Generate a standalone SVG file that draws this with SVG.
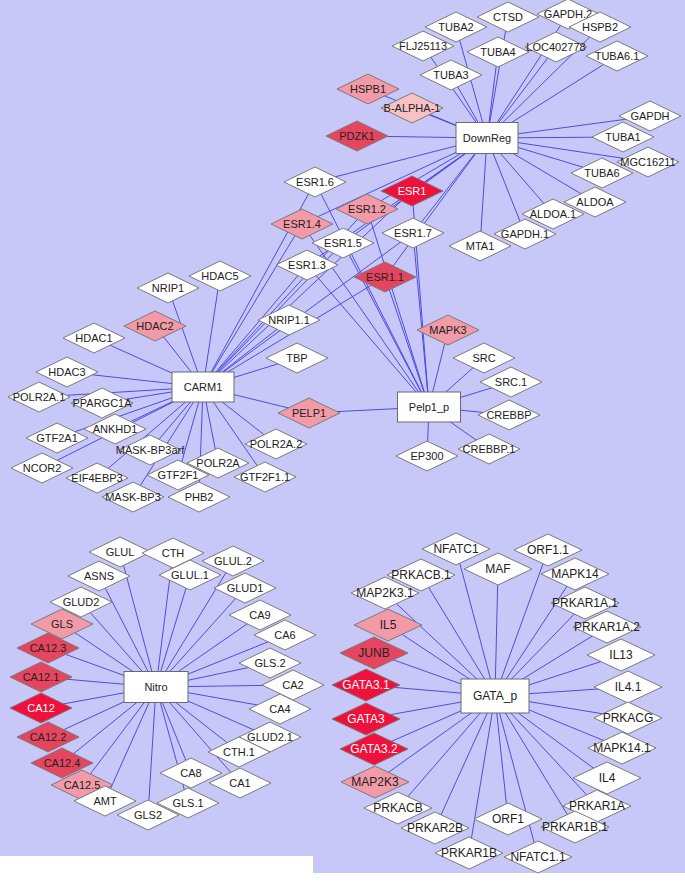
<svg xmlns="http://www.w3.org/2000/svg" width="685" height="887" viewBox="0 0 685 887">
<style>
.bg{fill:#c8c8f8}
.e line{stroke:#4c4ce6;stroke-width:1}
.d{stroke:#7a7a7a;stroke-width:1;fill:#fff}
.b{stroke:#6a6a6a;stroke-width:1;fill:#fff}
.r1{fill:#f0103c}
.r2{fill:#e6455f}
.r3{fill:#f29aa8}
.r4{fill:#f8c2c4}
text{font-family:"Liberation Sans",Arial,sans-serif;font-size:11px;fill:#222;text-anchor:middle}
.g text{font-size:12px}
text.wt{fill:#fff}
</style>
<rect class="bg" x="0" y="0" width="685" height="856"/>
<rect class="bg" x="313" y="855" width="372" height="18"/>
<g class="e" id="edges">
<!-- DownReg -->
<line x1="487" y1="138" x2="456" y2="27"/><line x1="487" y1="138" x2="508" y2="17"/><line x1="487" y1="138" x2="568" y2="14"/><line x1="487" y1="138" x2="600" y2="27"/><line x1="487" y1="138" x2="423" y2="46"/><line x1="487" y1="138" x2="498" y2="52"/><line x1="487" y1="138" x2="556" y2="47"/><line x1="487" y1="138" x2="617" y2="56"/><line x1="487" y1="138" x2="451" y2="75"/><line x1="487" y1="138" x2="368" y2="89"/><line x1="487" y1="138" x2="412" y2="108"/><line x1="487" y1="138" x2="650" y2="116"/><line x1="487" y1="138" x2="357" y2="136"/><line x1="487" y1="138" x2="623" y2="137"/><line x1="487" y1="138" x2="648" y2="162"/><line x1="487" y1="138" x2="602" y2="173"/><line x1="487" y1="138" x2="595" y2="202"/><line x1="487" y1="138" x2="553" y2="214"/><line x1="487" y1="138" x2="525" y2="234"/><line x1="487" y1="138" x2="480" y2="246"/>
<line x1="487" y1="138" x2="315" y2="182"/><line x1="487" y1="138" x2="412" y2="191"/><line x1="487" y1="138" x2="367" y2="209"/><line x1="487" y1="138" x2="302" y2="224"/><line x1="487" y1="138" x2="413" y2="233"/><line x1="487" y1="138" x2="343" y2="243"/><line x1="487" y1="138" x2="307" y2="265"/><line x1="487" y1="138" x2="385" y2="277"/>
<!-- CARM1 -->
<line x1="203" y1="387" x2="315" y2="182"/><line x1="203" y1="387" x2="412" y2="191"/><line x1="203" y1="387" x2="367" y2="209"/><line x1="203" y1="387" x2="302" y2="224"/><line x1="203" y1="387" x2="413" y2="233"/><line x1="203" y1="387" x2="343" y2="243"/><line x1="203" y1="387" x2="307" y2="265"/><line x1="203" y1="387" x2="385" y2="277"/>
<line x1="203" y1="387" x2="220" y2="276"/><line x1="203" y1="387" x2="168" y2="288"/><line x1="203" y1="387" x2="155" y2="326"/><line x1="203" y1="387" x2="94" y2="338"/><line x1="203" y1="387" x2="67" y2="372"/><line x1="203" y1="387" x2="39" y2="397"/><line x1="203" y1="387" x2="102" y2="403"/><line x1="203" y1="387" x2="115" y2="429"/><line x1="203" y1="387" x2="57" y2="438"/><line x1="203" y1="387" x2="150" y2="450"/><line x1="203" y1="387" x2="42" y2="468"/><line x1="203" y1="387" x2="97" y2="478"/><line x1="203" y1="387" x2="178" y2="475"/><line x1="203" y1="387" x2="218" y2="463"/><line x1="203" y1="387" x2="133" y2="497"/><line x1="203" y1="387" x2="199" y2="497"/><line x1="203" y1="387" x2="276" y2="444"/><line x1="203" y1="387" x2="265" y2="477"/><line x1="203" y1="387" x2="297" y2="358"/><line x1="203" y1="387" x2="289" y2="320"/><line x1="203" y1="387" x2="309" y2="413"/>
<!-- Pelp1_p -->
<line x1="429" y1="407" x2="315" y2="182"/><line x1="429" y1="407" x2="412" y2="191"/><line x1="429" y1="407" x2="367" y2="209"/><line x1="429" y1="407" x2="302" y2="224"/><line x1="429" y1="407" x2="413" y2="233"/><line x1="429" y1="407" x2="343" y2="243"/><line x1="429" y1="407" x2="307" y2="265"/><line x1="429" y1="407" x2="385" y2="277"/>
<line x1="429" y1="407" x2="309" y2="413"/><line x1="429" y1="407" x2="448" y2="330"/><line x1="429" y1="407" x2="484" y2="358"/><line x1="429" y1="407" x2="511" y2="382"/><line x1="429" y1="407" x2="509" y2="415"/><line x1="429" y1="407" x2="489" y2="449"/><line x1="429" y1="407" x2="427" y2="456"/>
<!-- Nitro -->
<line x1="156" y1="687" x2="120" y2="552"/><line x1="156" y1="687" x2="173" y2="553"/><line x1="156" y1="687" x2="233" y2="561"/><line x1="156" y1="687" x2="99" y2="576"/><line x1="156" y1="687" x2="190" y2="575"/><line x1="156" y1="687" x2="245" y2="588"/><line x1="156" y1="687" x2="81" y2="602"/><line x1="156" y1="687" x2="260" y2="615"/><line x1="156" y1="687" x2="62" y2="624"/><line x1="156" y1="687" x2="285" y2="635"/><line x1="156" y1="687" x2="48" y2="648"/><line x1="156" y1="687" x2="270" y2="663"/><line x1="156" y1="687" x2="41" y2="677"/><line x1="156" y1="687" x2="293" y2="685"/><line x1="156" y1="687" x2="41" y2="708"/><line x1="156" y1="687" x2="280" y2="709"/><line x1="156" y1="687" x2="48" y2="737"/><line x1="156" y1="687" x2="270" y2="737"/><line x1="156" y1="687" x2="239" y2="752"/><line x1="156" y1="687" x2="62" y2="763"/><line x1="156" y1="687" x2="191" y2="773"/><line x1="156" y1="687" x2="240" y2="783"/><line x1="156" y1="687" x2="82" y2="785"/><line x1="156" y1="687" x2="105" y2="801"/><line x1="156" y1="687" x2="188" y2="803"/><line x1="156" y1="687" x2="148" y2="815"/>
<!-- GATA_p -->
<line x1="495" y1="696" x2="456" y2="549"/><line x1="495" y1="696" x2="548" y2="550"/><line x1="495" y1="696" x2="498" y2="569"/><line x1="495" y1="696" x2="421" y2="575"/><line x1="495" y1="696" x2="575" y2="574"/><line x1="495" y1="696" x2="385" y2="593"/><line x1="495" y1="696" x2="585" y2="603"/><line x1="495" y1="696" x2="388" y2="625"/><line x1="495" y1="696" x2="607" y2="627"/><line x1="495" y1="696" x2="374" y2="653"/><line x1="495" y1="696" x2="621" y2="655"/><line x1="495" y1="696" x2="366" y2="685"/><line x1="495" y1="696" x2="628" y2="687"/><line x1="495" y1="696" x2="366" y2="719"/><line x1="495" y1="696" x2="628" y2="718"/><line x1="495" y1="696" x2="374" y2="749"/><line x1="495" y1="696" x2="622" y2="748"/><line x1="495" y1="696" x2="375" y2="782"/><line x1="495" y1="696" x2="607" y2="778"/><line x1="495" y1="696" x2="398" y2="808"/><line x1="495" y1="696" x2="597" y2="806"/><line x1="495" y1="696" x2="508" y2="819"/><line x1="495" y1="696" x2="435" y2="828"/><line x1="495" y1="696" x2="575" y2="827"/><line x1="495" y1="696" x2="469" y2="853"/><line x1="495" y1="696" x2="538" y2="857"/>
</g>
<!-- DownReg cluster -->
<g id="n_DownReg" transform="translate(487,138)"><rect class="b" x="-31" y="-15.5" width="62" height="31"/><text dy="4">DownReg</text></g>
<g id="n_TUBA2" transform="translate(456,27)"><path class="d" d="M-31,0L0,-15L31,0L0,15Z"/><text dy="4">TUBA2</text></g>
<g id="n_CTSD" transform="translate(508,17)"><path class="d" d="M-31,0L0,-15L31,0L0,15Z"/><text dy="4">CTSD</text></g>
<g id="n_GAPDH.2" transform="translate(568,14)"><path class="d" d="M-31,0L0,-15L31,0L0,15Z"/><text dy="4">GAPDH.2</text></g>
<g id="n_HSPB2" transform="translate(600,27)"><path class="d" d="M-31,0L0,-15L31,0L0,15Z"/><text dy="4">HSPB2</text></g>
<g id="n_FLJ25113" transform="translate(423,46)"><path class="d" d="M-31,0L0,-15L31,0L0,15Z"/><text dy="4">FLJ25113</text></g>
<g id="n_TUBA4" transform="translate(498,52)"><path class="d" d="M-31,0L0,-15L31,0L0,15Z"/><text dy="4">TUBA4</text></g>
<g id="n_LOC402778" transform="translate(556,47)"><path class="d" d="M-31,0L0,-15L31,0L0,15Z"/><text dy="4">LOC402778</text></g>
<g id="n_TUBA6.1" transform="translate(617,56)"><path class="d" d="M-31,0L0,-15L31,0L0,15Z"/><text dy="4">TUBA6.1</text></g>
<g id="n_TUBA3" transform="translate(451,75)"><path class="d" d="M-31,0L0,-15L31,0L0,15Z"/><text dy="4">TUBA3</text></g>
<g id="n_HSPB1" transform="translate(368,89)"><path class="d r3" d="M-31,0L0,-15L31,0L0,15Z"/><text dy="4">HSPB1</text></g>
<g id="n_B-ALPHA-1" transform="translate(412,108)"><path class="d r4" d="M-31,0L0,-15L31,0L0,15Z"/><text dy="4">B-ALPHA-1</text></g>
<g id="n_GAPDH" transform="translate(650,116)"><path class="d" d="M-31,0L0,-15L31,0L0,15Z"/><text dy="4">GAPDH</text></g>
<g id="n_PDZK1" transform="translate(357,136)"><path class="d r2" d="M-31,0L0,-15L31,0L0,15Z"/><text dy="4">PDZK1</text></g>
<g id="n_TUBA1" transform="translate(623,137)"><path class="d" d="M-31,0L0,-15L31,0L0,15Z"/><text dy="4">TUBA1</text></g>
<g id="n_MGC16211" transform="translate(648,162)"><path class="d" d="M-31,0L0,-15L31,0L0,15Z"/><text dy="4">MGC16211</text></g>
<g id="n_TUBA6" transform="translate(602,173)"><path class="d" d="M-31,0L0,-15L31,0L0,15Z"/><text dy="4">TUBA6</text></g>
<g id="n_ALDOA" transform="translate(595,202)"><path class="d" d="M-31,0L0,-15L31,0L0,15Z"/><text dy="4">ALDOA</text></g>
<g id="n_ALDOA.1" transform="translate(553,214)"><path class="d" d="M-31,0L0,-15L31,0L0,15Z"/><text dy="4">ALDOA.1</text></g>
<g id="n_GAPDH.1" transform="translate(525,234)"><path class="d" d="M-31,0L0,-15L31,0L0,15Z"/><text dy="4">GAPDH.1</text></g>
<g id="n_MTA1" transform="translate(480,246)"><path class="d" d="M-31,0L0,-15L31,0L0,15Z"/><text dy="4">MTA1</text></g>
<!-- ESR1 family -->
<g id="n_ESR1.6" transform="translate(315,182)"><path class="d" d="M-31,0L0,-15L31,0L0,15Z"/><text dy="4">ESR1.6</text></g>
<g id="n_ESR1" transform="translate(412,191)"><path class="d r1" d="M-31,0L0,-15L31,0L0,15Z"/><text class="wt" dy="4">ESR1</text></g>
<g id="n_ESR1.2" transform="translate(367,209)"><path class="d r3" d="M-31,0L0,-15L31,0L0,15Z"/><text dy="4">ESR1.2</text></g>
<g id="n_ESR1.4" transform="translate(302,224)"><path class="d r3" d="M-31,0L0,-15L31,0L0,15Z"/><text dy="4">ESR1.4</text></g>
<g id="n_ESR1.7" transform="translate(413,233)"><path class="d" d="M-31,0L0,-15L31,0L0,15Z"/><text dy="4">ESR1.7</text></g>
<g id="n_ESR1.5" transform="translate(343,243)"><path class="d" d="M-31,0L0,-15L31,0L0,15Z"/><text dy="4">ESR1.5</text></g>
<g id="n_ESR1.3" transform="translate(307,265)"><path class="d" d="M-31,0L0,-15L31,0L0,15Z"/><text dy="4">ESR1.3</text></g>
<g id="n_ESR1.1" transform="translate(385,277)"><path class="d r2" d="M-31,0L0,-15L31,0L0,15Z"/><text dy="4">ESR1.1</text></g>
<!-- CARM1 cluster -->
<g id="n_CARM1" transform="translate(203,387)"><rect class="b" x="-31" y="-15" width="62" height="30"/><text dy="4">CARM1</text></g>
<g id="n_HDAC5" transform="translate(220,276)"><path class="d" d="M-31,0L0,-15L31,0L0,15Z"/><text dy="4">HDAC5</text></g>
<g id="n_NRIP1" transform="translate(168,288)"><path class="d" d="M-31,0L0,-15L31,0L0,15Z"/><text dy="4">NRIP1</text></g>
<g id="n_HDAC2" transform="translate(155,326)"><path class="d r3" d="M-31,0L0,-15L31,0L0,15Z"/><text dy="4">HDAC2</text></g>
<g id="n_HDAC1" transform="translate(94,338)"><path class="d" d="M-31,0L0,-15L31,0L0,15Z"/><text dy="4">HDAC1</text></g>
<g id="n_HDAC3" transform="translate(67,372)"><path class="d" d="M-31,0L0,-15L31,0L0,15Z"/><text dy="4">HDAC3</text></g>
<g id="n_POLR2A.1" transform="translate(39,397)"><path class="d" d="M-31,0L0,-15L31,0L0,15Z"/><text dy="4">POLR2A.1</text></g>
<g id="n_PPARGC1A" transform="translate(102,403)"><path class="d" d="M-31,0L0,-15L31,0L0,15Z"/><text dy="4">PPARGC1A</text></g>
<g id="n_GTF2A1" transform="translate(57,438)"><path class="d" d="M-31,0L0,-15L31,0L0,15Z"/><text dy="4">GTF2A1</text></g>
<g id="n_ANKHD1" transform="translate(115,429)"><path class="d" d="M-31,0L0,-15L31,0L0,15Z"/><text dy="4">ANKHD1</text></g>
<g id="n_MASK-BP3arf" transform="translate(150,450)"><path class="d" d="M-31,0L0,-15L31,0L0,15Z"/><text dy="4">MASK-BP3arf</text></g>
<g id="n_NCOR2" transform="translate(42,468)"><path class="d" d="M-31,0L0,-15L31,0L0,15Z"/><text dy="4">NCOR2</text></g>
<g id="n_EIF4EBP3" transform="translate(97,478)"><path class="d" d="M-31,0L0,-15L31,0L0,15Z"/><text dy="4">EIF4EBP3</text></g>
<g id="n_POLR2A" transform="translate(218,463)"><path class="d" d="M-31,0L0,-15L31,0L0,15Z"/><text dy="4">POLR2A</text></g>
<g id="n_GTF2F1" transform="translate(178,475)"><path class="d" d="M-31,0L0,-15L31,0L0,15Z"/><text dy="4">GTF2F1</text></g>
<g id="n_MASK-BP3" transform="translate(133,497)"><path class="d" d="M-31,0L0,-15L31,0L0,15Z"/><text dy="4">MASK-BP3</text></g>
<g id="n_PHB2" transform="translate(199,497)"><path class="d" d="M-31,0L0,-15L31,0L0,15Z"/><text dy="4">PHB2</text></g>
<g id="n_POLR2A.2" transform="translate(276,444)"><path class="d" d="M-31,0L0,-15L31,0L0,15Z"/><text dy="4">POLR2A.2</text></g>
<g id="n_GTF2F1.1" transform="translate(265,477)"><path class="d" d="M-31,0L0,-15L31,0L0,15Z"/><text dy="4">GTF2F1.1</text></g>
<g id="n_TBP" transform="translate(297,358)"><path class="d" d="M-31,0L0,-15L31,0L0,15Z"/><text dy="4">TBP</text></g>
<g id="n_NRIP1.1" transform="translate(289,320)"><path class="d" d="M-31,0L0,-15L31,0L0,15Z"/><text dy="4">NRIP1.1</text></g>
<g id="n_PELP1" transform="translate(309,413)"><path class="d r3" d="M-31,0L0,-15L31,0L0,15Z"/><text dy="4">PELP1</text></g>
<!-- Pelp1_p cluster -->
<g id="n_Pelp1_p" transform="translate(429,407)"><rect class="b" x="-31.5" y="-15" width="63" height="30"/><text dy="4">Pelp1_p</text></g>
<g id="n_MAPK3" transform="translate(448,330)"><path class="d r3" d="M-31,0L0,-15L31,0L0,15Z"/><text dy="4">MAPK3</text></g>
<g id="n_SRC" transform="translate(484,358)"><path class="d" d="M-31,0L0,-15L31,0L0,15Z"/><text dy="4">SRC</text></g>
<g id="n_SRC.1" transform="translate(511,382)"><path class="d" d="M-31,0L0,-15L31,0L0,15Z"/><text dy="4">SRC.1</text></g>
<g id="n_CREBBP" transform="translate(509,415)"><path class="d" d="M-31,0L0,-15L31,0L0,15Z"/><text dy="4">CREBBP</text></g>
<g id="n_CREBBP.1" transform="translate(489,449)"><path class="d" d="M-31,0L0,-15L31,0L0,15Z"/><text dy="4">CREBBP.1</text></g>
<g id="n_EP300" transform="translate(427,456)"><path class="d" d="M-31,0L0,-15L31,0L0,15Z"/><text dy="4">EP300</text></g>
<!-- Nitro cluster -->
<g id="n_Nitro" transform="translate(156,687)"><rect class="b" x="-32" y="-15.5" width="64" height="31"/><text dy="4">Nitro</text></g>
<g id="n_GLUL" transform="translate(120,552)"><path class="d" d="M-31,0L0,-15L31,0L0,15Z"/><text dy="4">GLUL</text></g>
<g id="n_CTH" transform="translate(173,553)"><path class="d" d="M-31,0L0,-15L31,0L0,15Z"/><text dy="4">CTH</text></g>
<g id="n_GLUL.2" transform="translate(233,561)"><path class="d" d="M-31,0L0,-15L31,0L0,15Z"/><text dy="4">GLUL.2</text></g>
<g id="n_ASNS" transform="translate(99,576)"><path class="d" d="M-31,0L0,-15L31,0L0,15Z"/><text dy="4">ASNS</text></g>
<g id="n_GLUL.1" transform="translate(190,575)"><path class="d" d="M-31,0L0,-15L31,0L0,15Z"/><text dy="4">GLUL.1</text></g>
<g id="n_GLUD1" transform="translate(245,588)"><path class="d" d="M-31,0L0,-15L31,0L0,15Z"/><text dy="4">GLUD1</text></g>
<g id="n_GLUD2" transform="translate(81,602)"><path class="d" d="M-31,0L0,-15L31,0L0,15Z"/><text dy="4">GLUD2</text></g>
<g id="n_CA9" transform="translate(260,615)"><path class="d" d="M-31,0L0,-15L31,0L0,15Z"/><text dy="4">CA9</text></g>
<g id="n_GLS" transform="translate(62,624)"><path class="d r3" d="M-31,0L0,-15L31,0L0,15Z"/><text dy="4">GLS</text></g>
<g id="n_CA6" transform="translate(285,635)"><path class="d" d="M-31,0L0,-15L31,0L0,15Z"/><text dy="4">CA6</text></g>
<g id="n_CA12.3" transform="translate(48,648)"><path class="d r2" d="M-31,0L0,-15L31,0L0,15Z"/><text dy="4">CA12.3</text></g>
<g id="n_GLS.2" transform="translate(270,663)"><path class="d" d="M-31,0L0,-15L31,0L0,15Z"/><text dy="4">GLS.2</text></g>
<g id="n_CA12.1" transform="translate(41,677)"><path class="d r2" d="M-31,0L0,-15L31,0L0,15Z"/><text dy="4">CA12.1</text></g>
<g id="n_CA2" transform="translate(293,685)"><path class="d" d="M-31,0L0,-15L31,0L0,15Z"/><text dy="4">CA2</text></g>
<g id="n_CA12" transform="translate(41,708)"><path class="d r1" d="M-31,0L0,-15L31,0L0,15Z"/><text class="wt" dy="4">CA12</text></g>
<g id="n_CA4" transform="translate(280,709)"><path class="d" d="M-31,0L0,-15L31,0L0,15Z"/><text dy="4">CA4</text></g>
<g id="n_CA12.2" transform="translate(48,737)"><path class="d r2" d="M-31,0L0,-15L31,0L0,15Z"/><text dy="4">CA12.2</text></g>
<g id="n_GLUD2.1" transform="translate(270,737)"><path class="d" d="M-31,0L0,-15L31,0L0,15Z"/><text dy="4">GLUD2.1</text></g>
<g id="n_CTH.1" transform="translate(239,752)"><path class="d" d="M-31,0L0,-15L31,0L0,15Z"/><text dy="4">CTH.1</text></g>
<g id="n_CA12.4" transform="translate(62,763)"><path class="d r2" d="M-31,0L0,-15L31,0L0,15Z"/><text dy="4">CA12.4</text></g>
<g id="n_CA8" transform="translate(191,773)"><path class="d" d="M-31,0L0,-15L31,0L0,15Z"/><text dy="4">CA8</text></g>
<g id="n_CA1" transform="translate(240,783)"><path class="d" d="M-31,0L0,-15L31,0L0,15Z"/><text dy="4">CA1</text></g>
<g id="n_CA12.5" transform="translate(82,785)"><path class="d r3" d="M-31,0L0,-15L31,0L0,15Z"/><text dy="4">CA12.5</text></g>
<g id="n_AMT" transform="translate(105,801)"><path class="d" d="M-31,0L0,-15L31,0L0,15Z"/><text dy="4">AMT</text></g>
<g id="n_GLS.1" transform="translate(188,803)"><path class="d" d="M-31,0L0,-15L31,0L0,15Z"/><text dy="4">GLS.1</text></g>
<g id="n_GLS2" transform="translate(148,815)"><path class="d" d="M-31,0L0,-15L31,0L0,15Z"/><text dy="4">GLS2</text></g>
<!-- GATA cluster -->
<g class="g">
<g id="n_GATA_p" transform="translate(495,696)"><rect class="b" x="-34" y="-17" width="68" height="34"/><text dy="4">GATA_p</text></g>
<g id="n_NFATC1" transform="translate(456,549)"><path class="d" d="M-34,0L0,-16L34,0L0,16Z"/><text dy="4">NFATC1</text></g>
<g id="n_ORF1.1" transform="translate(548,550)"><path class="d" d="M-34,0L0,-16L34,0L0,16Z"/><text dy="4">ORF1.1</text></g>
<g id="n_MAF" transform="translate(498,569)"><path class="d" d="M-34,0L0,-16L34,0L0,16Z"/><text dy="4">MAF</text></g>
<g id="n_PRKACB.1" transform="translate(421,575)"><path class="d" d="M-34,0L0,-16L34,0L0,16Z"/><text dy="4">PRKACB.1</text></g>
<g id="n_MAPK14" transform="translate(575,574)"><path class="d" d="M-34,0L0,-16L34,0L0,16Z"/><text dy="4">MAPK14</text></g>
<g id="n_MAP2K3.1" transform="translate(385,593)"><path class="d" d="M-34,0L0,-16L34,0L0,16Z"/><text dy="4">MAP2K3.1</text></g>
<g id="n_PRKAR1A.1" transform="translate(585,603)"><path class="d" d="M-34,0L0,-16L34,0L0,16Z"/><text dy="4">PRKAR1A.1</text></g>
<g id="n_IL5" transform="translate(388,625)"><path class="d r3" d="M-34,0L0,-16L34,0L0,16Z"/><text dy="4">IL5</text></g>
<g id="n_PRKAR1A.2" transform="translate(607,627)"><path class="d" d="M-34,0L0,-16L34,0L0,16Z"/><text dy="4">PRKAR1A.2</text></g>
<g id="n_JUNB" transform="translate(374,653)"><path class="d r2" d="M-34,0L0,-16L34,0L0,16Z"/><text dy="4">JUNB</text></g>
<g id="n_IL13" transform="translate(621,655)"><path class="d" d="M-34,0L0,-16L34,0L0,16Z"/><text dy="4">IL13</text></g>
<g id="n_GATA3.1" transform="translate(366,685)"><path class="d r1" d="M-34,0L0,-16L34,0L0,16Z"/><text class="wt" dy="4">GATA3.1</text></g>
<g id="n_IL4.1" transform="translate(628,687)"><path class="d" d="M-34,0L0,-16L34,0L0,16Z"/><text dy="4">IL4.1</text></g>
<g id="n_GATA3" transform="translate(366,719)"><path class="d r1" d="M-34,0L0,-16L34,0L0,16Z"/><text class="wt" dy="4">GATA3</text></g>
<g id="n_PRKACG" transform="translate(628,718)"><path class="d" d="M-34,0L0,-16L34,0L0,16Z"/><text dy="4">PRKACG</text></g>
<g id="n_GATA3.2" transform="translate(374,749)"><path class="d r1" d="M-34,0L0,-16L34,0L0,16Z"/><text class="wt" dy="4">GATA3.2</text></g>
<g id="n_MAPK14.1" transform="translate(622,748)"><path class="d" d="M-34,0L0,-16L34,0L0,16Z"/><text dy="4">MAPK14.1</text></g>
<g id="n_MAP2K3" transform="translate(375,782)"><path class="d r3" d="M-34,0L0,-16L34,0L0,16Z"/><text dy="4">MAP2K3</text></g>
<g id="n_IL4" transform="translate(607,778)"><path class="d" d="M-34,0L0,-16L34,0L0,16Z"/><text dy="4">IL4</text></g>
<g id="n_PRKACB" transform="translate(398,808)"><path class="d" d="M-34,0L0,-16L34,0L0,16Z"/><text dy="4">PRKACB</text></g>
<g id="n_PRKAR1A" transform="translate(597,806)"><path class="d" d="M-34,0L0,-16L34,0L0,16Z"/><text dy="4">PRKAR1A</text></g>
<g id="n_ORF1" transform="translate(508,819)"><path class="d" d="M-34,0L0,-16L34,0L0,16Z"/><text dy="4">ORF1</text></g>
<g id="n_PRKAR2B" transform="translate(435,828)"><path class="d" d="M-34,0L0,-16L34,0L0,16Z"/><text dy="4">PRKAR2B</text></g>
<g id="n_PRKAR1B.1" transform="translate(575,827)"><path class="d" d="M-34,0L0,-16L34,0L0,16Z"/><text dy="4">PRKAR1B.1</text></g>
<g id="n_PRKAR1B" transform="translate(469,853)"><path class="d" d="M-34,0L0,-16L34,0L0,16Z"/><text dy="4">PRKAR1B</text></g>
<g id="n_NFATC1.1" transform="translate(538,857)"><path class="d" d="M-34,0L0,-16L34,0L0,16Z"/><text dy="4">NFATC1.1</text></g>
</g>
</svg>
